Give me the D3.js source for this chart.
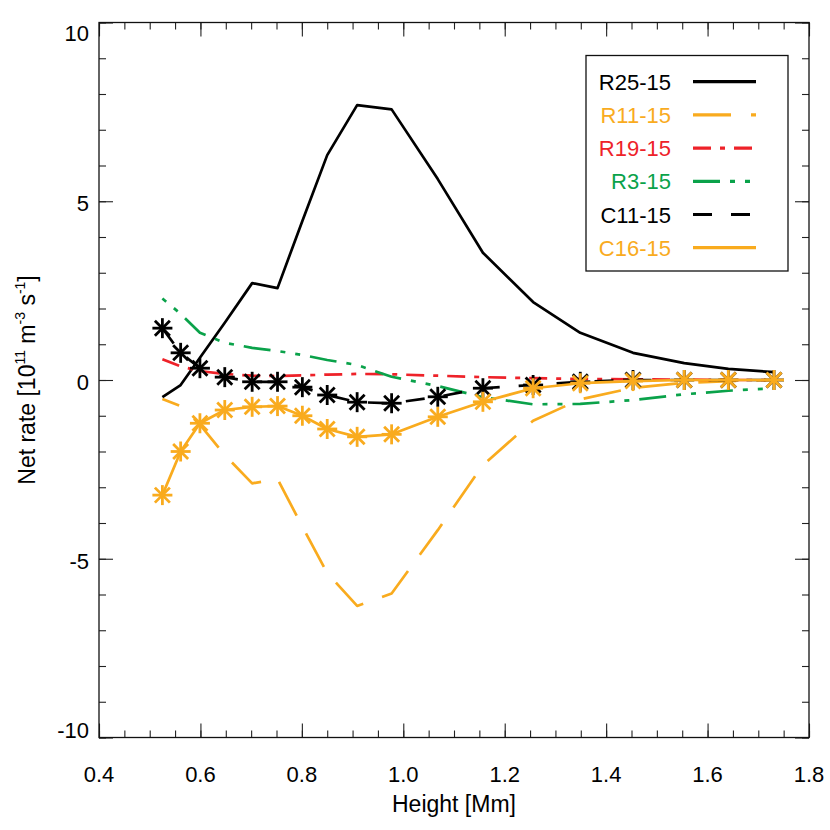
<!DOCTYPE html>
<html><head><meta charset="utf-8">
<script src="https://cdn.jsdelivr.net/npm/d3@7"></script>
<style>
html,body{margin:0;padding:0;background:#fff;}
text{font-family:"Liberation Sans",Arial,Helvetica,sans-serif;fill:#000;}
</style></head>
<body><svg id="c" width="830" height="830"></svg>
<script>
// ---- data ----
const heights = [0.525,0.561,0.599,0.648,0.702,0.752,0.801,0.850,0.909,0.977,1.068,1.157,1.256,1.349,1.453,1.554,1.641,1.731];
const r25_15 = [-0.48,-0.14,0.62,1.60,2.71,2.57,4.45,6.29,7.69,7.57,5.62,3.56,2.18,1.32,0.76,0.47,0.31,0.22];
const r11_15 = [-0.53,-0.73,-1.25,-2.10,-2.89,-2.77,-4.10,-5.40,-6.32,-5.97,-4.20,-2.38,-1.14,-0.54,-0.22,-0.08,-0.03,0.00];
const r19_15 = [0.58,0.38,0.25,0.17,0.12,0.11,0.13,0.15,0.17,0.16,0.12,0.08,0.05,0.03,0.02,0.01,0.00,0.00];
const r3_15  = [2.28,1.85,1.32,1.04,0.90,0.81,0.70,0.56,0.42,0.09,-0.17,-0.48,-0.68,-0.67,-0.56,-0.40,-0.30,-0.23];
const c11_15 = [1.45,0.76,0.33,0.08,-0.05,-0.05,-0.20,-0.42,-0.62,-0.65,-0.47,-0.23,-0.14,-0.05,0.00,0.00,0.00,0.00];
const c16_15 = [-3.22,-2.00,-1.21,-0.84,-0.75,-0.73,-1.00,-1.37,-1.59,-1.52,-1.03,-0.61,-0.23,-0.09,-0.03,0.00,0.00,0.00];
const seriesNames = ["R25-15","R11-15","R19-15","R3-15","C11-15","C16-15"];
const seriesValues = [r25_15,r11_15,r19_15,r3_15,c11_15,c16_15];
const seriesColors = ["#000000","#F9AB1E","#EE2229","#0AA24A","#000000","#F9AB1E"];
const seriesDash = ["none","38,20","18,9,5,9","27,10,5,10,5,10","19,19","none"];
const seriesDashOffset = [0,20,0,37,0,0];
const seriesMarkers = [false,false,false,false,true,true];
const xTicks = [0.4,0.6,0.8,1.0,1.2,1.4,1.6,1.8];
const xTickLabels = ["0.4","0.6","0.8","1.0","1.2","1.4","1.6","1.8"];
const yTicks = [-10,-5,0,5,10];
const yTickLabels = ["-10","-5","0","5","10"];
const xTitle = "Height [Mm]";

// ---- scales ----
const L=99,R=809,T=22.5,B=737.5;
const x = d3.scaleLinear().domain([0.4,1.8]).range([L,R]);
const y = d3.scaleLinear().domain([-10,10]).range([B,T]);
const svg = d3.select("#c");
const FS = 22, FT = 23;

// ---- axes (inward ticks on all sides) ----
const xMinor = d3.range(0.4,1.8001,0.05);
const yMinor = d3.range(-10,10.001,1);
function styleAxis(g){g.select(".domain").remove();g.selectAll("line").attr("stroke","#222").attr("stroke-width",1.1);}
svg.append("g").attr("transform",`translate(0,${B})`).call(d3.axisBottom(x).tickValues(xMinor).tickSize(-7).tickFormat("")).call(styleAxis);
svg.append("g").attr("transform",`translate(0,${B})`).call(d3.axisBottom(x).tickValues(xTicks).tickSize(-14).tickFormat("")).call(styleAxis);
svg.append("g").attr("transform",`translate(0,${T})`).call(d3.axisTop(x).tickValues(xMinor).tickSize(-7).tickFormat("")).call(styleAxis);
svg.append("g").attr("transform",`translate(0,${T})`).call(d3.axisTop(x).tickValues(xTicks).tickSize(-14).tickFormat("")).call(styleAxis);
svg.append("g").attr("transform",`translate(${L},0)`).call(d3.axisLeft(y).tickValues(yMinor).tickSize(-7).tickFormat("")).call(styleAxis);
svg.append("g").attr("transform",`translate(${L},0)`).call(d3.axisLeft(y).tickValues(yTicks).tickSize(-14).tickFormat("")).call(styleAxis);
svg.append("g").attr("transform",`translate(${R},0)`).call(d3.axisRight(y).tickValues(yMinor).tickSize(-7).tickFormat("")).call(styleAxis);
svg.append("g").attr("transform",`translate(${R},0)`).call(d3.axisRight(y).tickValues(yTicks).tickSize(-14).tickFormat("")).call(styleAxis);
svg.append("rect").attr("x",L).attr("y",T).attr("width",R-L).attr("height",B-T)
  .attr("fill","none").attr("stroke","#111").attr("stroke-width",1.3);

// tick labels
svg.selectAll(".xl").data(xTicks).enter().append("text")
  .attr("x",d=>x(d)).attr("y",B+44).attr("text-anchor","middle").attr("font-size",FS)
  .text((d,i)=>xTickLabels[i]);
svg.selectAll(".yl").data(yTicks).enter().append("text")
  .attr("x",L-10).attr("y",d=>y(d)+ (d===10?18:(d===-10?0:10)))
  .attr("text-anchor","end").attr("font-size",FS)
  .text((d,i)=>yTickLabels[i]);

// axis titles
svg.append("text").attr("x",(L+R)/2).attr("y",812).attr("text-anchor","middle").attr("font-size",FT).text(xTitle);
const yt = svg.append("text").attr("transform",`translate(35,${(T+B)/2}) rotate(-90)`)
  .attr("text-anchor","middle").attr("font-size",FT);
yt.append("tspan").text("Net rate [10");
yt.append("tspan").attr("font-size",14).attr("dy",-10).text("11");
yt.append("tspan").attr("dy",10).text(" m");
yt.append("tspan").attr("font-size",14).attr("dy",-10).text("-3");
yt.append("tspan").attr("dy",10).text(" s");
yt.append("tspan").attr("font-size",14).attr("dy",-10).text("-1");
yt.append("tspan").attr("dy",10).text("]");

// ---- series ----
const line = d3.line().x(d=>x(d[0])).y(d=>y(d[1]));
seriesValues.forEach((vals,i)=>{
  const pts = heights.map((h,j)=>[h,vals[j]]);
  svg.append("path").datum(pts).attr("d",line).attr("fill","none")
    .attr("stroke",seriesColors[i]).attr("stroke-width",2.7)
    .attr("stroke-dasharray",seriesDash[i]).attr("stroke-dashoffset",seriesDashOffset[i])
    .attr("stroke-linejoin","round");
  if(seriesMarkers[i]){
    const g = svg.append("g");
    pts.forEach(p=>{
      const cx=x(p[0]), cy=y(p[1]);
      const a=10, b=7.5;
      const segs=[[0,-a,0,a],[-a,0,a,0],[-b,-b,b,b],[-b,b,b,-b]];
      segs.forEach(s=>g.append("line").attr("x1",cx+s[0]).attr("y1",cy+s[1]).attr("x2",cx+s[2]).attr("y2",cy+s[3])
        .attr("stroke",seriesColors[i]).attr("stroke-width",2.8));
    });
  }
});

// ---- legend ----
const lg = svg.append("g");
lg.append("rect").attr("x",586).attr("y",55.5).attr("width",202).attr("height",215.5)
  .attr("fill","#fff").attr("stroke","#111").attr("stroke-width",1.3);
seriesNames.forEach((n,i)=>{
  const cy = 81.7 + i*33.2;
  lg.append("text").attr("x",671).attr("y",cy+8).attr("text-anchor","end").attr("font-size",FS)
    .style("fill",seriesColors[i]).text(n);
  lg.append("line").attr("x1",693).attr("x2",756).attr("y1",cy).attr("y2",cy)
    .attr("stroke",seriesColors[i]).attr("stroke-width",3.2)
    .attr("stroke-dasharray",seriesDash[i]);
});
</script></body></html>
